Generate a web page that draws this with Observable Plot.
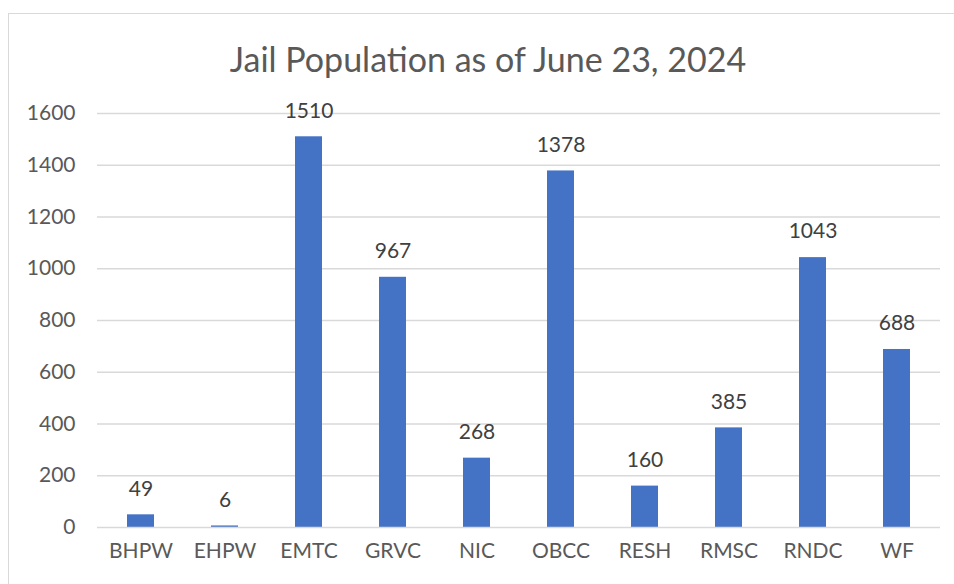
<!DOCTYPE html>
<html>
<head>
<meta charset="utf-8">
<script src="https://cdn.jsdelivr.net/npm/d3@7"></script>
<script src="https://cdn.jsdelivr.net/npm/@observablehq/plot@0.6"></script>
<style>
  html, body { margin: 0; padding: 0; background: #fff; }
  #wrap { position: relative; width: 954px; height: 584px; overflow: hidden; font-family: Lato, "Open Sans", sans-serif; }
  #frame { position: absolute; left: 8px; top: 13px; width: 980px; height: 620px; border: 1.5px solid #d9d9d9; box-sizing: border-box; }
  #title { position: absolute; left: 0; top: 36px; width: 976px; text-align: center; font-size: 34px; line-height: 46px; color: #595959; font-family: Lato, sans-serif; }
  #chart { position: absolute; left: 0; top: 0; }
</style>
</head>
<body>
<div id="wrap">
  <div id="frame"></div>
  <div id="chart"></div>
  <div id="title">Jail Population as of June 23, 2024</div>
</div>
<script>
const facilities = ["BHPW", "EHPW", "EMTC", "GRVC", "NIC", "OBCC", "RESH", "RMSC", "RNDC", "WF"];
const population = [49, 6, 1510, 967, 268, 1378, 160, 385, 1043, 688];
const yTicks = [0, 200, 400, 600, 800, 1000, 1200, 1400, 1600];

const data = facilities.map((f, i) => ({facility: f, value: population[i]}));

const chart = Plot.plot({
  width: 954,
  height: 584,
  marginLeft: 97,
  marginRight: 14,
  marginTop: 113,
  marginBottom: 57,
  style: {fontFamily: "Lato, sans-serif", fontSize: "21px", color: "#595959", background: "transparent"},
  x: {domain: facilities, paddingInner: 0.68, paddingOuter: 0.34, label: null, tickSize: 0, tickPadding: 16},
  y: {domain: [0, 1600], ticks: yTicks, tickFormat: d => String(d), label: null, tickSize: 0, tickPadding: 22},
  marks: [
    Plot.gridY(yTicks.filter(t => t > 0), {stroke: "#d9d9d9", strokeOpacity: 1, strokeWidth: 1.5}),
    Plot.barY(data, {x: "facility", y: "value", fill: "#4472C4"}),
    Plot.ruleY([0], {stroke: "#d9d9d9", strokeWidth: 1.5}),
    Plot.text(data, {x: "facility", y: "value", text: d => String(d.value), dy: -26, fill: "#404040", fontSize: 21})
  ]
});
document.getElementById("chart").appendChild(chart);
</script>
</body>
</html>
